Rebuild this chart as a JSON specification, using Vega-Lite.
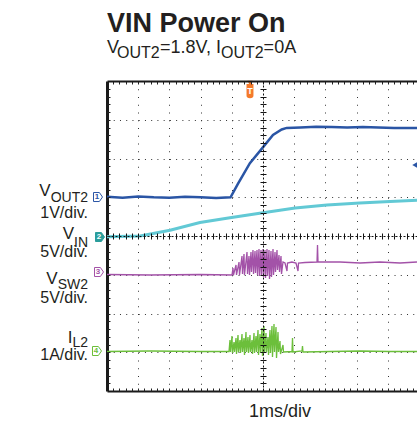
{
  "$schema": "https://vega.github.io/schema/vega-lite/v6.json",
  "width": 310,
  "height": 310,
  "autosize": {"type": "none"},
  "padding": {"left": 107, "top": 81, "right": 0, "bottom": 32},
  "background": "white",
  "config": {"view": {"stroke": null}},
  "datasets": {
    "vout": [
      {"t":0,"v":5.01},{"t":0.5,"v":4.99},{"t":1,"v":5.02},{"t":1.5,"v":5.0},{"t":2,"v":4.99},{"t":2.5,"v":5.01},{"t":3,"v":5.0},{"t":3.5,"v":4.98},{"t":3.96,"v":5.0},
      {"t":4.2,"v":5.35},{"t":4.58,"v":5.88},{"t":5.01,"v":6.3},{"t":5.32,"v":6.61},{"t":5.6,"v":6.75},{"t":5.76,"v":6.79},{"t":6.2,"v":6.8},{"t":6.7,"v":6.82},{"t":7.2,"v":6.81},{"t":7.7,"v":6.8},{"t":8.2,"v":6.81},{"t":8.7,"v":6.8},{"t":9.2,"v":6.79},{"t":9.936,"v":6.79}
    ],
    "vin": [
      {"t":0,"v":3.98},{"t":1.06,"v":4.0},{"t":2.02,"v":4.15},{"t":2.98,"v":4.35},{"t":3.94,"v":4.47},{"t":5.0,"v":4.6},{"t":6.03,"v":4.72},{"t":7.05,"v":4.8},{"t":8.1,"v":4.85},{"t":9.07,"v":4.89},{"t":9.936,"v":4.92}
    ],
    "vsw": [
      {"t":0,"v":3.006},{"t":1.378,"v":2.994},{"t":2.981,"v":3.006},{"t":4.006,"v":2.994},
      {"t":4.038,"v":3.174},{"t":4.054,"v":2.994},{"t":4.135,"v":3.252},{"t":4.151,"v":2.994},{"t":4.231,"v":3.329},{"t":4.247,"v":2.994},{"t":4.327,"v":3.484},{"t":4.343,"v":3.019},{"t":4.391,"v":3.535},{"t":4.407,"v":2.994},{"t":4.487,"v":3.587},{"t":4.503,"v":3.019},{"t":4.551,"v":3.484},{"t":4.567,"v":2.994},{"t":4.615,"v":3.587},{"t":4.631,"v":3.071},{"t":4.679,"v":3.639},{"t":4.696,"v":3.019},{"t":4.744,"v":3.613},{"t":4.76,"v":3.045},{"t":4.808,"v":3.639},{"t":4.824,"v":2.994},{"t":4.872,"v":3.665},{"t":4.888,"v":2.968},{"t":4.936,"v":3.639},{"t":4.952,"v":2.994},{"t":5.0,"v":3.665},{"t":5.016,"v":2.942},{"t":5.064,"v":3.639},{"t":5.08,"v":2.916},{"t":5.128,"v":3.665},{"t":5.144,"v":2.968},{"t":5.192,"v":3.639},{"t":5.208,"v":2.89},{"t":5.256,"v":3.613},{"t":5.272,"v":2.942},{"t":5.321,"v":3.665},{"t":5.337,"v":2.994},{"t":5.385,"v":3.587},{"t":5.401,"v":3.071},{"t":5.449,"v":3.639},{"t":5.465,"v":3.123},{"t":5.513,"v":3.51},{"t":5.529,"v":3.071},{"t":5.577,"v":3.484},{"t":5.593,"v":3.019},{"t":5.641,"v":3.329},{"t":5.705,"v":3.303},{"t":5.769,"v":3.097},{"t":5.785,"v":3.303},{"t":5.929,"v":3.329},{"t":6.058,"v":3.303},{"t":6.122,"v":3.097},{"t":6.138,"v":3.303},{"t":6.346,"v":3.316},{"t":6.731,"v":3.329},{"t":6.747,"v":3.768},{"t":6.763,"v":3.329},{"t":7.468,"v":3.329},{"t":8.109,"v":3.303},{"t":8.75,"v":3.329},{"t":9.391,"v":3.303},{"t":9.936,"v":3.329}
    ],
    "il": [
      {"t":0,"v":1.019},{"t":1.378,"v":1.032},{"t":2.981,"v":1.019},{"t":3.91,"v":1.019},{"t":3.942,"v":1.316},{"t":3.958,"v":1.006},{"t":4.006,"v":1.419},{"t":4.022,"v":0.981},{"t":4.071,"v":1.265},{"t":4.087,"v":1.006},{"t":4.135,"v":1.368},{"t":4.151,"v":0.955},{"t":4.199,"v":1.445},{"t":4.215,"v":1.006},{"t":4.263,"v":1.316},{"t":4.279,"v":0.981},{"t":4.327,"v":1.471},{"t":4.343,"v":1.006},{"t":4.391,"v":1.368},{"t":4.407,"v":0.929},{"t":4.455,"v":1.523},{"t":4.471,"v":1.006},{"t":4.519,"v":1.394},{"t":4.535,"v":0.981},{"t":4.583,"v":1.445},{"t":4.599,"v":1.006},{"t":4.647,"v":1.316},{"t":4.663,"v":0.955},{"t":4.712,"v":1.497},{"t":4.728,"v":0.981},{"t":4.776,"v":1.419},{"t":4.792,"v":1.006},{"t":4.84,"v":1.574},{"t":4.856,"v":0.929},{"t":4.904,"v":1.471},{"t":4.92,"v":0.981},{"t":4.968,"v":1.626},{"t":4.984,"v":0.903},{"t":5.032,"v":1.677},{"t":5.048,"v":0.981},{"t":5.096,"v":1.497},{"t":5.112,"v":1.006},{"t":5.16,"v":1.394},{"t":5.176,"v":0.929},{"t":5.224,"v":1.574},{"t":5.24,"v":0.981},{"t":5.288,"v":1.677},{"t":5.304,"v":0.877},{"t":5.353,"v":1.729},{"t":5.369,"v":1.006},{"t":5.417,"v":1.652},{"t":5.433,"v":0.852},{"t":5.481,"v":1.523},{"t":5.497,"v":1.006},{"t":5.545,"v":1.29},{"t":5.561,"v":0.955},{"t":5.641,"v":1.187},{"t":5.657,"v":1.006},{"t":5.929,"v":1.019},{"t":5.946,"v":1.368},{"t":5.962,"v":1.006},{"t":6.25,"v":1.032},{"t":6.266,"v":1.161},{"t":6.282,"v":1.006},{"t":7.147,"v":1.019},{"t":8.109,"v":1.032},{"t":9.071,"v":1.019},{"t":9.936,"v":1.019}
    ],
    "markers": [
      {"x":-0.288,"y":5.006,"ch":"1"},{"x":-0.224,"y":3.974,"ch":"2"},{"x":-0.256,"y":3.071,"ch":"3"},{"x":-0.321,"y":1.032,"ch":"4"}
    ],
    "trig": [{"x":4.583,"y":7.781,"label":"T"}],
    "offset": [{"x":9.86,"y":5.83}],
    "title": [{"x":0,"y":9.265,"label":"VIN Power On"}],
    "sub18": [{"x":0,"y":8.723,"label":"V"},{"x":1.699,"y":8.723,"label":"=1.8V, I"},{"x":5.02,"y":8.723,"label":"=0A"}],
    "sub16": [{"x":0.321,"y":8.581,"label":"OUT2"},{"x":3.654,"y":8.581,"label":"OUT2"}],
    "lblMain": [{"x":-1.806,"y":5.032,"label":"V"},{"x":-1.058,"y":3.923,"label":"V"},{"x":-1.58,"y":2.761,"label":"V"},{"x":-1.109,"y":1.239,"label":"I"}],
    "lblSub": [{"x":-0.609,"y":4.877,"label":"OUT2"},{"x":-0.609,"y":3.716,"label":"IN"},{"x":-0.609,"y":2.645,"label":"SW2"},{"x":-0.609,"y":1.148,"label":"L2"}],
    "perDiv": [{"x":-0.609,"y":4.465,"label":"1V/div."},{"x":-0.609,"y":3.458,"label":"5V/div."},{"x":-0.609,"y":2.271,"label":"5V/div."},{"x":-0.609,"y":0.8,"label":"1A/div."}],
    "timeDiv": [{"x":5.545,"y":-0.671,"label":"1ms/div"}]
  },
  "resolve": {"axis": {"x": "independent", "y": "independent"}},
  "layer": [
    {
      "data": {"name": "vin"},
      "mark": {"type": "line", "color": "#62c9d5", "strokeWidth": 3},
      "encoding": {
        "x": {"field": "t", "type": "quantitative", "scale": {"domain": [0, 9.936], "nice": false, "zero": false},
          "axis": {"orient": "bottom", "values": [1,2,3,4,5,6,7,8,9], "grid": true, "gridColor": "#333333", "gridDash": [1, 6.75], "gridWidth": 1, "ticks": false, "labels": false, "domain": true, "domainColor": "#1a1a1a", "domainWidth": 2, "title": null}},
        "y": {"field": "v", "type": "quantitative", "scale": {"domain": [0, 8], "nice": false, "zero": false},
          "axis": {"orient": "left", "values": [1,2,3,4,5,6,7], "grid": true, "gridColor": "#333333", "gridDash": [1, 5.24], "gridWidth": 1, "ticks": false, "labels": false, "domain": true, "domainColor": "#1a1a1a", "domainWidth": 3, "title": null}}
      }
    },
    {
      "data": {"name": "vout"},
      "mark": {"type": "line", "color": "#2a55a5", "strokeWidth": 2.5},
      "encoding": {
        "x": {"field": "t", "type": "quantitative", "scale": {"domain": [0, 9.936], "nice": false, "zero": false},
          "axis": {"orient": "bottom", "offset": -310, "values": [0.2,0.4,0.6,0.8,1,1.2,1.4,1.6,1.8,2,2.2,2.4,2.6,2.8,3,3.2,3.4,3.6,3.8,4,4.2,4.4,4.6,4.8,5,5.2,5.4,5.6,5.8,6,6.2,6.4,6.6,6.8,7,7.2,7.4,7.6,7.8,8,8.2,8.4,8.6,8.8,9,9.2,9.4,9.6,9.8], "ticks": true, "tickSize": 3, "tickColor": "#222222", "tickWidth": 1, "labels": false, "grid": false, "domain": true, "domainColor": "#1a1a1a", "domainWidth": 2, "title": null, "zindex": 1}},
        "y": {"field": "v", "type": "quantitative", "scale": {"domain": [0, 8], "nice": false, "zero": false},
          "axis": {"orient": "right", "offset": -310, "values": [0.2,0.4,0.6,0.8,1,1.2,1.4,1.6,1.8,2,2.2,2.4,2.6,2.8,3,3.2,3.4,3.6,3.8,4,4.2,4.4,4.6,4.8,5,5.2,5.4,5.6,5.8,6,6.2,6.4,6.6,6.8,7,7.2,7.4,7.6,7.8], "ticks": true, "tickSize": 3, "tickColor": "#222222", "tickWidth": 1, "labels": false, "grid": false, "domain": false, "title": null, "zindex": 1}}
      }
    },
    {
      "data": {"name": "vsw"},
      "mark": {"type": "line", "color": "#a352a8", "strokeWidth": 1.3},
      "encoding": {
        "x": {"field": "t", "type": "quantitative", "scale": {"domain": [0, 9.936], "nice": false, "zero": false},
          "axis": {"orient": "top", "offset": -155, "values": [0.2,0.4,0.6,0.8,1,1.2,1.4,1.6,1.8,2,2.2,2.4,2.6,2.8,3,3.2,3.4,3.6,3.8,4,4.2,4.4,4.6,4.8,5,5.2,5.4,5.6,5.8,6,6.2,6.4,6.6,6.8,7,7.2,7.4,7.6,7.8,8,8.2,8.4,8.6,8.8,9,9.2,9.4,9.6,9.8], "ticks": true, "tickSize": 3, "tickColor": "#111111", "tickWidth": 1, "labels": false, "grid": false, "domain": true, "domainDash": [2, 2], "domainColor": "#111111", "domainWidth": 1, "title": null, "zindex": 1}},
        "y": {"field": "v", "type": "quantitative", "scale": {"domain": [0, 8], "nice": false, "zero": false},
          "axis": {"orient": "right", "offset": -154, "values": [0.2,0.4,0.6,0.8,1,1.2,1.4,1.6,1.8,2,2.2,2.4,2.6,2.8,3,3.2,3.4,3.6,3.8,4,4.2,4.4,4.6,4.8,5,5.2,5.4,5.6,5.8,6,6.2,6.4,6.6,6.8,7,7.2,7.4,7.6,7.8], "ticks": true, "tickSize": 3, "tickColor": "#111111", "tickWidth": 1, "labels": false, "grid": false, "domain": true, "domainDash": [2, 2], "domainColor": "#111111", "domainWidth": 1, "title": null, "zindex": 1}}
      }
    },
    {
      "data": {"name": "il"},
      "mark": {"type": "line", "color": "#6cbf3b", "strokeWidth": 1.3},
      "encoding": {
        "x": {"field": "t", "type": "quantitative", "scale": {"domain": [0, 9.936], "nice": false, "zero": false},
          "axis": {"orient": "bottom", "offset": -155, "values": [0.2,0.4,0.6,0.8,1,1.2,1.4,1.6,1.8,2,2.2,2.4,2.6,2.8,3,3.2,3.4,3.6,3.8,4,4.2,4.4,4.6,4.8,5,5.2,5.4,5.6,5.8,6,6.2,6.4,6.6,6.8,7,7.2,7.4,7.6,7.8,8,8.2,8.4,8.6,8.8,9,9.2,9.4,9.6,9.8], "ticks": true, "tickSize": 3, "tickColor": "#111111", "tickWidth": 1, "labels": false, "grid": false, "domain": false, "title": null, "zindex": 1}},
        "y": {"field": "v", "type": "quantitative", "scale": {"domain": [0, 8], "nice": false, "zero": false},
          "axis": {"orient": "left", "offset": -156, "values": [0.2,0.4,0.6,0.8,1,1.2,1.4,1.6,1.8,2,2.2,2.4,2.6,2.8,3,3.2,3.4,3.6,3.8,4,4.2,4.4,4.6,4.8,5,5.2,5.4,5.6,5.8,6,6.2,6.4,6.6,6.8,7,7.2,7.4,7.6,7.8], "ticks": true, "tickSize": 3, "tickColor": "#111111", "tickWidth": 1, "labels": false, "grid": false, "domain": false, "title": null, "zindex": 1}}
      }
    },
    {
      "data": {"name": "markers"},
      "mark": {"type": "point", "shape": "M-1,-1L0.3,-1L1,0L0.3,1L-1,1Z", "size": 81, "filled": true, "strokeWidth": 1, "opacity": 1},
      "encoding": {
        "x": {"field": "x", "type": "quantitative", "scale": {"domain": [0, 9.936], "nice": false, "zero": false},
          "axis": {"orient": "top", "offset": -310, "values": [0.2,0.4,0.6,0.8,1,1.2,1.4,1.6,1.8,2,2.2,2.4,2.6,2.8,3,3.2,3.4,3.6,3.8,4,4.2,4.4,4.6,4.8,5,5.2,5.4,5.6,5.8,6,6.2,6.4,6.6,6.8,7,7.2,7.4,7.6,7.8,8,8.2,8.4,8.6,8.8,9,9.2,9.4,9.6,9.8], "ticks": true, "tickSize": 3, "tickColor": "#222222", "tickWidth": 1, "labels": false, "grid": false, "domain": false, "title": null, "zindex": 1}},
        "y": {"field": "y", "type": "quantitative", "axis": null},
        "fill": {"field": "ch", "type": "nominal", "scale": {"domain": ["1","2","3","4"], "range": ["#ffffff","#2a9d9b","#ffffff","#ffffff"]}, "legend": null},
        "stroke": {"field": "ch", "type": "nominal", "scale": {"domain": ["1","2","3","4"], "range": ["#2a55a5","#2a9d9b","#a352a8","#6cbf3b"]}, "legend": null}
      }
    },
    {
      "data": {"name": "markers"},
      "mark": {"type": "text", "font": "Liberation Sans", "fontSize": 8, "fontWeight": "bold", "align": "center", "baseline": "middle", "dx": -1},
      "encoding": {
        "x": {"field": "x", "type": "quantitative", "axis": null},
        "y": {"field": "y", "type": "quantitative", "axis": null},
        "text": {"field": "ch"},
        "color": {"field": "ch", "type": "nominal", "scale": {"domain": ["1","2","3","4"], "range": ["#2a55a5","#ffffff","#a352a8","#6cbf3b"]}, "legend": null}
      }
    },
    {
      "data": {"name": "trig"},
      "mark": {"type": "point", "shape": "M-0.3,-1L0.3,-1L0.1,-0.62L0.4,-0.62L0.4,0.7Q0.4,1,0,1Q-0.4,1,-0.4,0.7L-0.4,-0.62L-0.1,-0.62Z", "size": 300, "filled": true, "color": "#f47a2a", "opacity": 1},
      "encoding": {
        "x": {"field": "x", "type": "quantitative", "axis": null},
        "y": {"field": "y", "type": "quantitative", "axis": null}
      }
    },
    {
      "data": {"name": "trig"},
      "mark": {"type": "text", "font": "Liberation Sans", "fontSize": 9, "fontWeight": "bold", "color": "#ffffff", "align": "center", "baseline": "middle", "dy": 2},
      "encoding": {
        "x": {"field": "x", "type": "quantitative", "axis": null},
        "y": {"field": "y", "type": "quantitative", "axis": null},
        "text": {"field": "label"}
      }
    },
    {
      "data": {"name": "offset"},
      "mark": {"type": "point", "shape": "triangle-left", "size": 30, "filled": true, "color": "#2a55a5", "opacity": 1},
      "encoding": {
        "x": {"field": "x", "type": "quantitative", "axis": null},
        "y": {"field": "y", "type": "quantitative", "axis": null}
      }
    },
    {
      "data": {"name": "title"},
      "mark": {"type": "text", "font": "Liberation Sans", "fontSize": 27, "fontWeight": "bold", "color": "#231f20", "align": "left", "baseline": "alphabetic"},
      "encoding": {
        "x": {"field": "x", "type": "quantitative", "axis": null},
        "y": {"field": "y", "type": "quantitative", "axis": null},
        "text": {"field": "label"}
      }
    },
    {
      "data": {"name": "sub18"},
      "mark": {"type": "text", "font": "Liberation Sans", "fontSize": 18, "color": "#231f20", "align": "left", "baseline": "alphabetic"},
      "encoding": {
        "x": {"field": "x", "type": "quantitative", "axis": null},
        "y": {"field": "y", "type": "quantitative", "axis": null},
        "text": {"field": "label"}
      }
    },
    {
      "data": {"name": "sub16"},
      "mark": {"type": "text", "font": "Liberation Sans", "fontSize": 16, "color": "#231f20", "align": "left", "baseline": "alphabetic"},
      "encoding": {
        "x": {"field": "x", "type": "quantitative", "axis": null},
        "y": {"field": "y", "type": "quantitative", "axis": null},
        "text": {"field": "label"}
      }
    },
    {
      "data": {"name": "lblMain"},
      "mark": {"type": "text", "font": "Liberation Sans", "fontSize": 17, "color": "#231f20", "align": "right", "baseline": "alphabetic"},
      "encoding": {
        "x": {"field": "x", "type": "quantitative", "axis": null},
        "y": {"field": "y", "type": "quantitative", "axis": null},
        "text": {"field": "label"}
      }
    },
    {
      "data": {"name": "lblSub"},
      "mark": {"type": "text", "font": "Liberation Sans", "fontSize": 14, "color": "#231f20", "align": "right", "baseline": "alphabetic"},
      "encoding": {
        "x": {"field": "x", "type": "quantitative", "axis": null},
        "y": {"field": "y", "type": "quantitative", "axis": null},
        "text": {"field": "label"}
      }
    },
    {
      "data": {"name": "perDiv"},
      "mark": {"type": "text", "font": "Liberation Sans", "fontSize": 16, "color": "#231f20", "align": "right", "baseline": "alphabetic"},
      "encoding": {
        "x": {"field": "x", "type": "quantitative", "axis": null},
        "y": {"field": "y", "type": "quantitative", "axis": null},
        "text": {"field": "label"}
      }
    },
    {
      "data": {"name": "timeDiv"},
      "mark": {"type": "text", "font": "Liberation Sans", "fontSize": 18, "color": "#231f20", "align": "center", "baseline": "alphabetic"},
      "encoding": {
        "x": {"field": "x", "type": "quantitative", "axis": null},
        "y": {"field": "y", "type": "quantitative", "axis": null},
        "text": {"field": "label"}
      }
    }
  ]
}
